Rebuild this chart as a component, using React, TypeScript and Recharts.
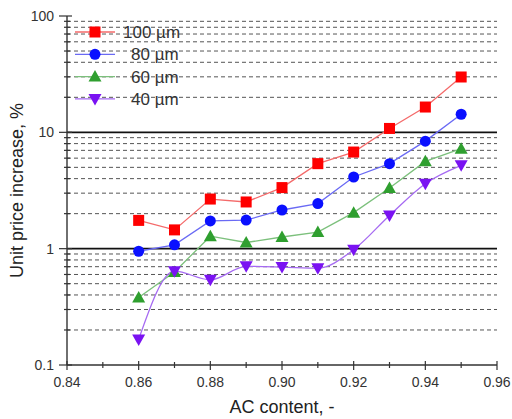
import React from 'react';
import { LineChart, Line, XAxis, YAxis, ReferenceLine } from 'recharts';

// AC content values (x) and unit price increase in % per particle size
const acContent = [0.86, 0.87, 0.88, 0.89, 0.9, 0.91, 0.92, 0.93, 0.94, 0.95];
const um100 = [1.75, 1.45, 2.67, 2.52, 3.35, 5.38, 6.77, 10.8, 16.5, 29.9];
const um80 = [0.95, 1.08, 1.73, 1.76, 2.15, 2.44, 4.13, 5.38, 8.4, 14.3];
const um60 = [0.38, 0.63, 1.28, 1.13, 1.26, 1.39, 2.04, 3.32, 5.63, 7.24];
const um40 = [0.166, 0.64, 0.54, 0.705, 0.695, 0.68, 0.98, 1.93, 3.62, 5.2];

const xTicks = [0.84, 0.85, 0.86, 0.87, 0.88, 0.89, 0.9, 0.91, 0.92, 0.93, 0.94, 0.95, 0.96];
const xLabeled = [0.84, 0.86, 0.88, 0.9, 0.92, 0.94, 0.96];
const yDecades = [0.1, 1, 10, 100];
const yMinor = [0.2, 0.3, 0.4, 0.5, 0.6, 0.7, 0.8, 0.9, 2, 3, 4, 5, 6, 7, 8, 9, 20, 30, 40, 50, 60, 70, 80, 90];
const ySolid = [1, 10];

const series = [
  { key: 'um100', name: '100 µm', values: um100, line: '#f46a6a', fill: '#ff0000', shape: 'square', curve: 'linear' },
  { key: 'um80', name: '80 µm', values: um80, line: '#6a6af4', fill: '#0a10ff', shape: 'circle', curve: 'linear' },
  { key: 'um60', name: '60 µm', values: um60, line: '#7cc07c', fill: '#2f9f2f', shape: 'up', curve: 'linear' },
  { key: 'um40', name: '40 µm', values: um40, line: '#a66af2', fill: '#7a12f2', shape: 'down', curve: 'monotoneX' },
];

const data = acContent.map((x, i) => {
  const row: any = { x };
  series.forEach(s => { row[s.key] = s.values[i]; });
  return row;
});

const font = '"Liberation Sans", Arial, sans-serif';
const yTicks = [...yDecades, ...yMinor].sort((a, b) => a - b);

const Marker = ({ cx, cy, shape, fill }: any) => {
  if (cx == null || cy == null) return null;
  if (shape === 'square') return <rect x={cx - 5.5} y={cy - 5.5} width={11} height={11} fill={fill} />;
  if (shape === 'circle') return <circle cx={cx} cy={cy} r={5.5} fill={fill} />;
  if (shape === 'up') return <polygon points={`${cx - 6.5},${cy + 5} ${cx + 6.5},${cy + 5} ${cx},${cy - 6.5}`} fill={fill} />;
  return <polygon points={`${cx - 6.5},${cy - 5} ${cx + 6.5},${cy - 5} ${cx},${cy + 6.5}`} fill={fill} />;
};

const BottomTick = ({ x, y, payload }: any) => {
  const major = xLabeled.some(v => Math.abs(v - payload.value) < 1e-6);
  return (
    <g>
      <line x1={x} x2={x} y1={y - (major ? 4 : 3)} y2={y + (major ? 5 : 3)} stroke="#333" strokeWidth={1.2} />
      {major && (
        <text x={x} y={y + 22} textAnchor="middle" fontSize={14} fill="#333" fontFamily={font}>
          {payload.value.toFixed(2)}
        </text>
      )}
    </g>
  );
};

const TopTick = ({ x, y, payload }: any) => {
  const major = xLabeled.some(v => Math.abs(v - payload.value) < 1e-6);
  return <line x1={x} x2={x} y1={y} y2={y + (major ? 5 : 3)} stroke="#333" strokeWidth={1.2} />;
};

const LeftTick = ({ x, y, payload }: any) => {
  const major = yDecades.includes(payload.value);
  return (
    <g>
      <line x1={x - (major ? 8 : 3)} x2={x + (major ? 5 : 3)} y1={y} y2={y} stroke="#333" strokeWidth={1.2} />
      {major && (
        <text x={x - 13} y={y + 5} textAnchor="end" fontSize={14} fill="#333" fontFamily={font}>
          {payload.value}
        </text>
      )}
    </g>
  );
};

const RightTick = ({ x, y, payload }: any) => {
  const major = yDecades.includes(payload.value);
  return <line x1={x - (major ? 5 : 3)} x2={x} y1={y} y2={y} stroke="#333" strokeWidth={1.2} />;
};

const YTitle = ({ viewBox }: any) => {
  const cy = viewBox.y + viewBox.height / 2;
  return (
    <text x={23} y={cy} transform={`rotate(-90, 23, ${cy})`} textAnchor="middle" fontSize={18} fill="#222" fontFamily={font}>
      Unit price increase, %
    </text>
  );
};

const LegendBox = () => (
  <svg width={130} height={90}>
    {series.map((s, i) => (
      <g key={s.key} transform={`translate(0, ${10 + i * 22.3})`}>
        <line x1={3} x2={43} y1={0} y2={0} stroke={s.line} strokeWidth={1.3} />
        <Marker cx={23} cy={0} shape={s.shape} fill={s.fill} />
        <text x={s.name.length > 5 ? 51 : 59} y={6} fontSize={17} fill="#333" fontFamily={font}>{s.name}</text>
      </g>
    ))}
  </svg>
);

export default function App() {
  return (
    <div style={{ position: 'absolute', left: 0, top: 0, width: 512, height: 419, background: '#fff' }}>
      <LineChart width={512} height={419} data={data} margin={{ top: 16, right: 15, bottom: 0, left: 0 }}>
        {yMinor.map(v => (
          <ReferenceLine key={'m' + v} y={v} yAxisId="left" xAxisId="bottom" stroke="#555" strokeDasharray="4 3" strokeWidth={1} />
        ))}
        {ySolid.map(v => (
          <ReferenceLine key={'s' + v} y={v} yAxisId="left" xAxisId="bottom" stroke="#111" strokeWidth={1.6} />
        ))}
        <XAxis
          xAxisId="bottom"
          dataKey="x"
          type="number"
          domain={[0.84, 0.96]}
          ticks={xTicks}
          interval={0}
          height={54}
          tickSize={0}
          tickMargin={0}
          tick={<BottomTick />}
          axisLine={{ stroke: '#333', strokeWidth: 1.4 }}
          label={{ value: 'AC content, -', position: 'insideBottom', offset: 6, fontSize: 18, fill: '#222', fontFamily: font }}
        />
        <XAxis
          xAxisId="top"
          orientation="top"
          dataKey="x"
          type="number"
          domain={[0.84, 0.96]}
          ticks={xTicks}
          interval={0}
          height={0}
          tickSize={0}
          tickMargin={0}
          tick={<TopTick />}
          axisLine={{ stroke: '#333', strokeWidth: 1.4 }}
        />
        <YAxis
          yAxisId="left"
          scale="log"
          domain={[0.1, 100]}
          ticks={yTicks}
          interval={0}
          allowDataOverflow
          width={67}
          tickSize={0}
          tickMargin={0}
          tick={<LeftTick />}
          axisLine={{ stroke: '#333', strokeWidth: 1.4 }}
          label={<YTitle />}
        />
        <YAxis
          yAxisId="right"
          orientation="right"
          scale="log"
          domain={[0.1, 100]}
          ticks={yTicks}
          interval={0}
          allowDataOverflow
          width={0}
          tickSize={0}
          tickMargin={0}
          tick={<RightTick />}
          axisLine={{ stroke: '#333', strokeWidth: 1.4 }}
        />
        {series.map(s => (
          <Line
            key={s.key}
            xAxisId="bottom"
            yAxisId="left"
            type={s.curve as any}
            dataKey={s.key}
            name={s.name}
            stroke={s.line}
            strokeWidth={1.3}
            dot={(p: any) => <Marker key={s.key + p.index} cx={p.cx} cy={p.cy} shape={s.shape} fill={s.fill} />}
            activeDot={false}
            isAnimationActive={false}
          />
        ))}
      </LineChart>
      <div style={{ position: 'absolute', left: 72, top: 22 }}>
        <LegendBox />
      </div>
    </div>
  );
}
